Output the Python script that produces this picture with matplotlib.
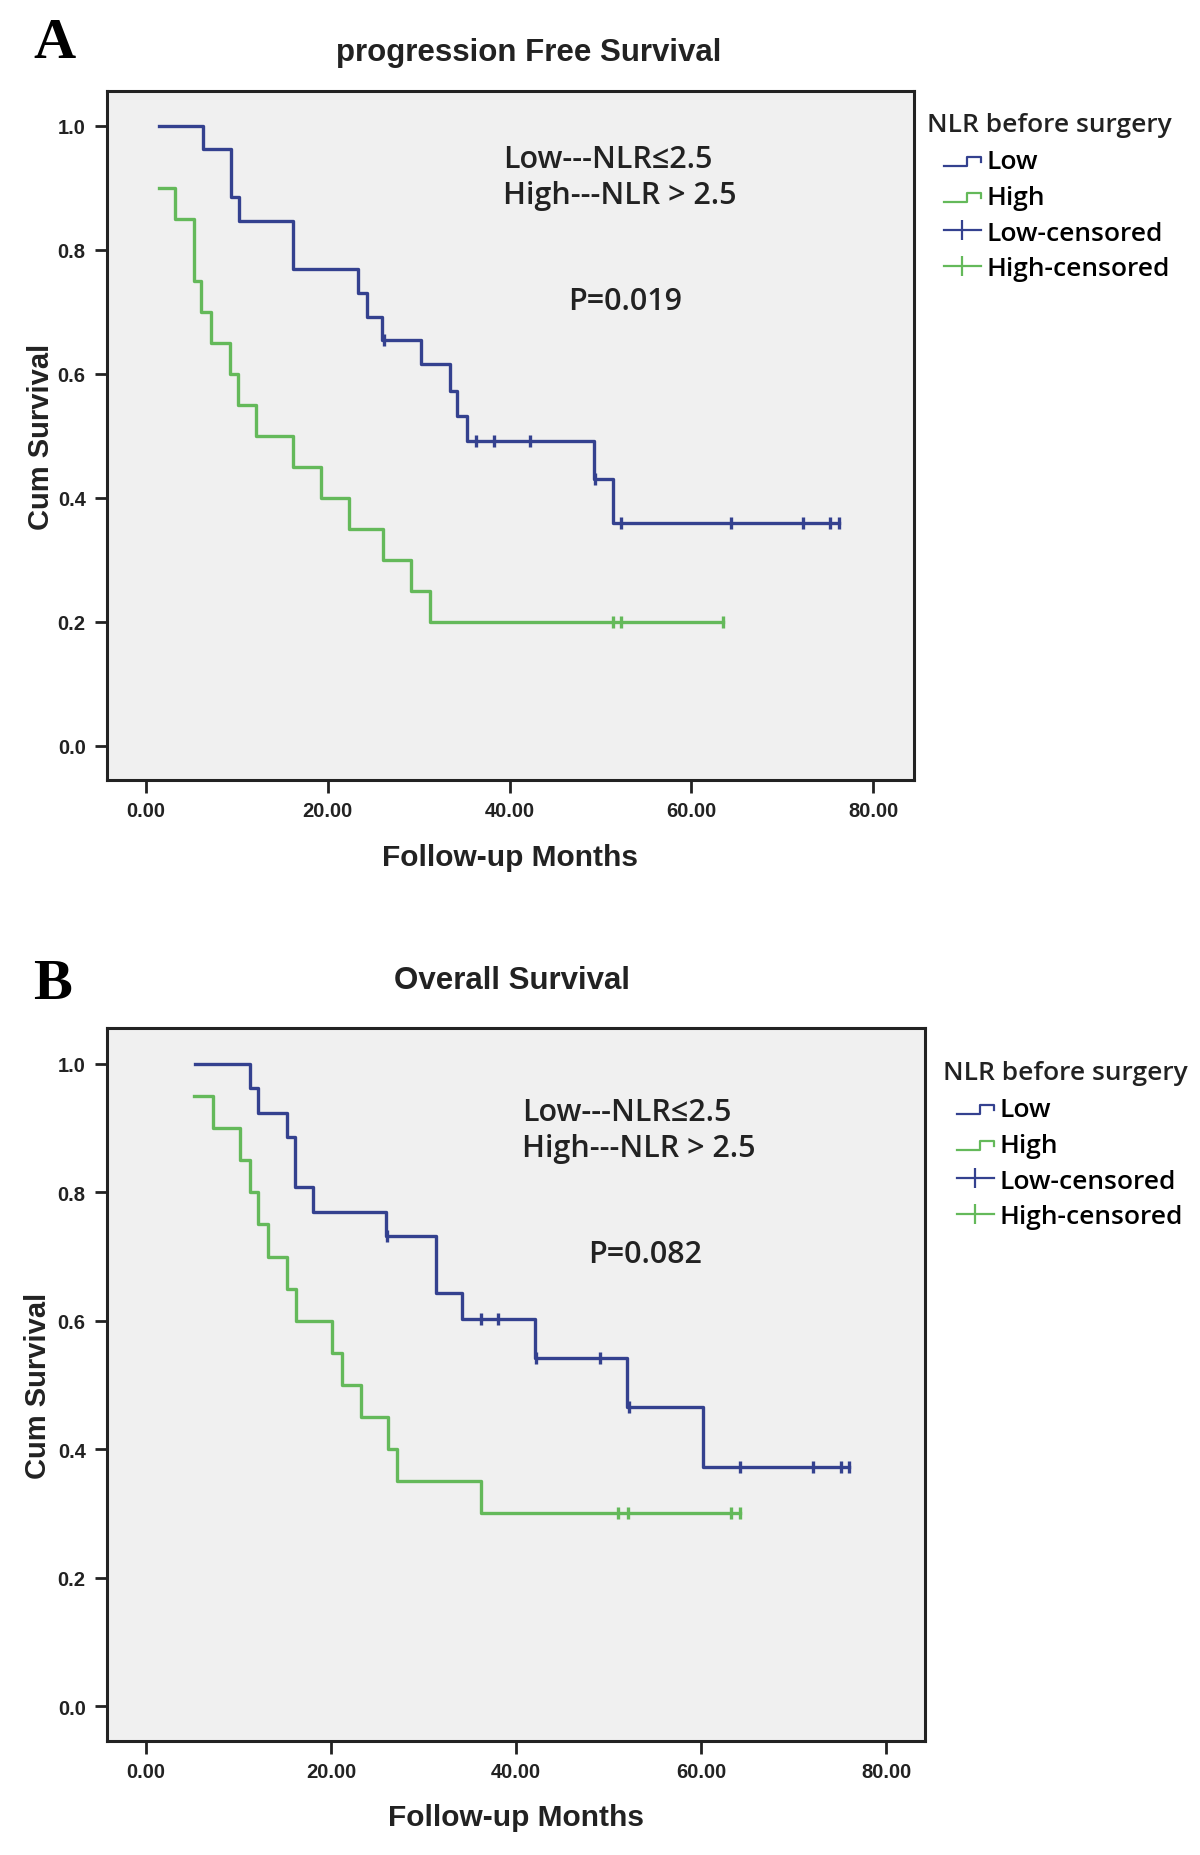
import matplotlib
matplotlib.use("Agg")
import matplotlib.pyplot as plt
import numpy as np
from matplotlib.lines import Line2D
from matplotlib.legend_handler import HandlerBase
from matplotlib.ticker import FormatStrFormatter

# ---- data (months, cumulative survival) ----
# panel A: progression free survival
a_low_t = [1.4, 6.3, 9.4, 10.2, 16.2, 23.3, 24.3, 26.0, 30.3, 33.4, 34.2, 35.3, 49.3, 51.4, 76.2]
a_low_s = [1.0, 0.962, 0.885, 0.846, 0.769, 0.731, 0.692, 0.654, 0.615, 0.573, 0.532, 0.491, 0.43, 0.36, 0.36]
a_low_cens = [26.2, 36.3, 38.3, 42.3, 49.4, 52.3, 64.4, 72.3, 75.3, 76.2]

a_high_t = [1.4, 3.2, 5.3, 6.1, 7.2, 9.2, 10.1, 12.1, 16.2, 19.2, 22.3, 26.1, 29.1, 31.2, 63.5]
a_high_s = [0.90, 0.85, 0.75, 0.70, 0.65, 0.60, 0.55, 0.50, 0.45, 0.40, 0.35, 0.30, 0.25, 0.20, 0.20]
a_high_cens = [51.4, 52.3, 63.5]

# panel B: overall survival
b_low_t = [5.3, 11.2, 12.1, 15.2, 16.1, 18.1, 25.9, 31.3, 34.2, 42.0, 52.0, 60.2, 76.0]
b_low_s = [1.0, 0.962, 0.924, 0.887, 0.808, 0.770, 0.732, 0.644, 0.603, 0.542, 0.466, 0.373, 0.373]
b_low_cens = [26.1, 36.2, 38.1, 42.2, 49.1, 52.2, 64.2, 72.1, 75.1, 76.0]

b_high_t = [5.2, 7.2, 10.2, 11.2, 12.1, 13.2, 15.2, 16.2, 20.1, 21.2, 23.2, 26.2, 27.1, 36.2, 64.2]
b_high_s = [0.95, 0.90, 0.85, 0.80, 0.75, 0.70, 0.65, 0.60, 0.55, 0.50, 0.45, 0.40, 0.35, 0.30, 0.30]
b_high_cens = [51.0, 52.1, 63.2, 64.2]

x_ticks = [0, 20, 40, 60, 80]
y_ticks = [0.0, 0.2, 0.4, 0.6, 0.8, 1.0]
legend_labels = ["Low", "High", "Low-censored", "High-censored"]

BLUE = "#34418f"
GREEN = "#64b95a"
INK = "#222222"
W, H = 1200, 1856

def fx(px):
    return px / W

def fy(py):
    return 1 - py / H

def surv_at(times, surv, t):
    idx = np.searchsorted(times, t, side="right") - 1
    return np.asarray(surv)[idx]


class StepHandler(HandlerBase):
    # the little "_|~" step symbol SPSS puts in the legend
    def create_artists(self, legend, orig_handle, xdescent, ydescent, width, height, fontsize, trans):
        x0, y0 = -xdescent, -ydescent
        xs = x0 + width * np.array([0.0, 0.62, 0.62, 1.0, 1.0])
        ys = y0 + height * np.array([0.1, 0.1, 0.6, 0.6, 0.32])
        ln = Line2D(xs, ys, color=orig_handle.get_color(), lw=1.6, transform=trans)
        return [ln]


def draw_panel(fig, rect, xlim, ylim, low, high, title, title_xy, letter_xy, letter,
               notes_xy, pval, pval_xy, leg_title_xy, leg_xy, xlab_y, ylab_x):
    ax = fig.add_axes(rect)
    ax.set_facecolor("#f0f0f0")
    ax.set_xlim(*xlim)
    ax.set_ylim(*ylim)

    handles = []
    for (t, s, c), col in zip([low, high], [BLUE, GREEN]):
        ln, = ax.step(t, s, where="post", color=col, lw=2.4)
        handles.append(ln)
    for (t, s, c), col in zip([low, high], [BLUE, GREEN]):
        ax.plot(c, surv_at(t, s, c), ls="none", marker="|", color=col, ms=9, mew=2.4)
        handles.append(Line2D([], [], color=col, lw=1.6, marker="|", ms=15, mew=1.6))

    for sp in ax.spines.values():
        sp.set_linewidth(2.2)
        sp.set_color(INK)
    ax.set_xticks(x_ticks)
    ax.set_yticks(y_ticks)
    ax.xaxis.set_major_formatter(FormatStrFormatter("%.2f"))
    ax.yaxis.set_major_formatter(FormatStrFormatter("%.1f"))
    ax.tick_params(length=9, width=2, color=INK, labelsize=14.5, pad=6)
    for lab in ax.get_xticklabels() + ax.get_yticklabels():
        lab.set_fontweight("bold")
        lab.set_family("Liberation Sans")
        lab.set_color(INK)

    ax.set_xlabel("Follow-up Months", fontsize=21.5, fontweight="bold",
                  family="Liberation Sans", va="center", color=INK)
    ax.xaxis.set_label_coords(0.5, xlab_y)
    ax.set_ylabel("Cum Survival", fontsize=21, fontweight="bold",
                  family="Liberation Sans", va="center", color=INK)
    ax.yaxis.set_label_coords(ylab_x, 0.5)

    fig.text(fx(title_xy[0]), fy(title_xy[1]), title, fontsize=22.5, fontweight="bold",
             family="Liberation Sans", ha="center", va="center", color=INK)
    fig.text(fx(letter_xy[0]), fy(letter_xy[1]), letter, fontsize=42, fontweight="bold",
             family="Liberation Serif", ha="left", va="center")

    note_font = ["Open Sans", "DejaVu Sans"]
    fig.text(fx(notes_xy[0]), fy(notes_xy[1]), "Low---NLR\u22642.5", fontsize=22,
             family=note_font, fontweight="semibold", va="center", color=INK)
    fig.text(fx(notes_xy[0]), fy(notes_xy[1] + 36), "High---NLR > 2.5", fontsize=22,
             family=note_font, fontweight="semibold", va="center", color=INK)
    fig.text(fx(pval_xy[0]), fy(pval_xy[1]), pval, fontsize=22,
             family=note_font, fontweight="semibold", va="center", color=INK)

    fig.text(fx(leg_title_xy[0]), fy(leg_title_xy[1]), "NLR before surgery", fontsize=19,
             family=note_font, fontweight="semibold", va="center", color=INK)
    hm = {handles[0]: StepHandler(), handles[1]: StepHandler()}
    fig.legend(handles, legend_labels, handler_map=hm, loc="upper left",
               bbox_to_anchor=(fx(leg_xy[0]), fy(leg_xy[1])), frameon=False,
               borderpad=0, borderaxespad=0, handlelength=1.4, handletextpad=0.2,
               labelspacing=0.41,
               prop={"family": note_font, "size": 19, "weight": "semibold"})
    return ax


fig = plt.figure(figsize=(W / 100, H / 100), dpi=100)

# panel A
draw_panel(fig, [fx(106.5), fy(781), (914 - 106.5) / W, (781 - 92) / H],
           (-4.35, 84.5), (-0.055, 1.056),
           (a_low_t, a_low_s, a_low_cens), (a_high_t, a_high_s, a_high_cens),
           "progression Free Survival", (529, 53), (33, 44), "A",
           (503, 160), "P=0.019", (568, 302), (927, 125), (944, 150),
           -(858 - 781) / 689, (41 - 106.5) / 808)

# panel B
draw_panel(fig, [fx(106.5), fy(1742), (925 - 106.5) / W, (1742 - 1029) / H],
           (-4.27, 84.2), (-0.0545, 1.056),
           (b_low_t, b_low_s, b_low_cens), (b_high_t, b_high_s, b_high_cens),
           "Overall Survival", (512, 981), (33, 985), "B",
           (522, 1113), "P=0.082", (588, 1255), (943, 1073), (957, 1098),
           -(1818 - 1742) / 713, (38 - 106.5) / 818)

fig.savefig("out.png", dpi=100)
